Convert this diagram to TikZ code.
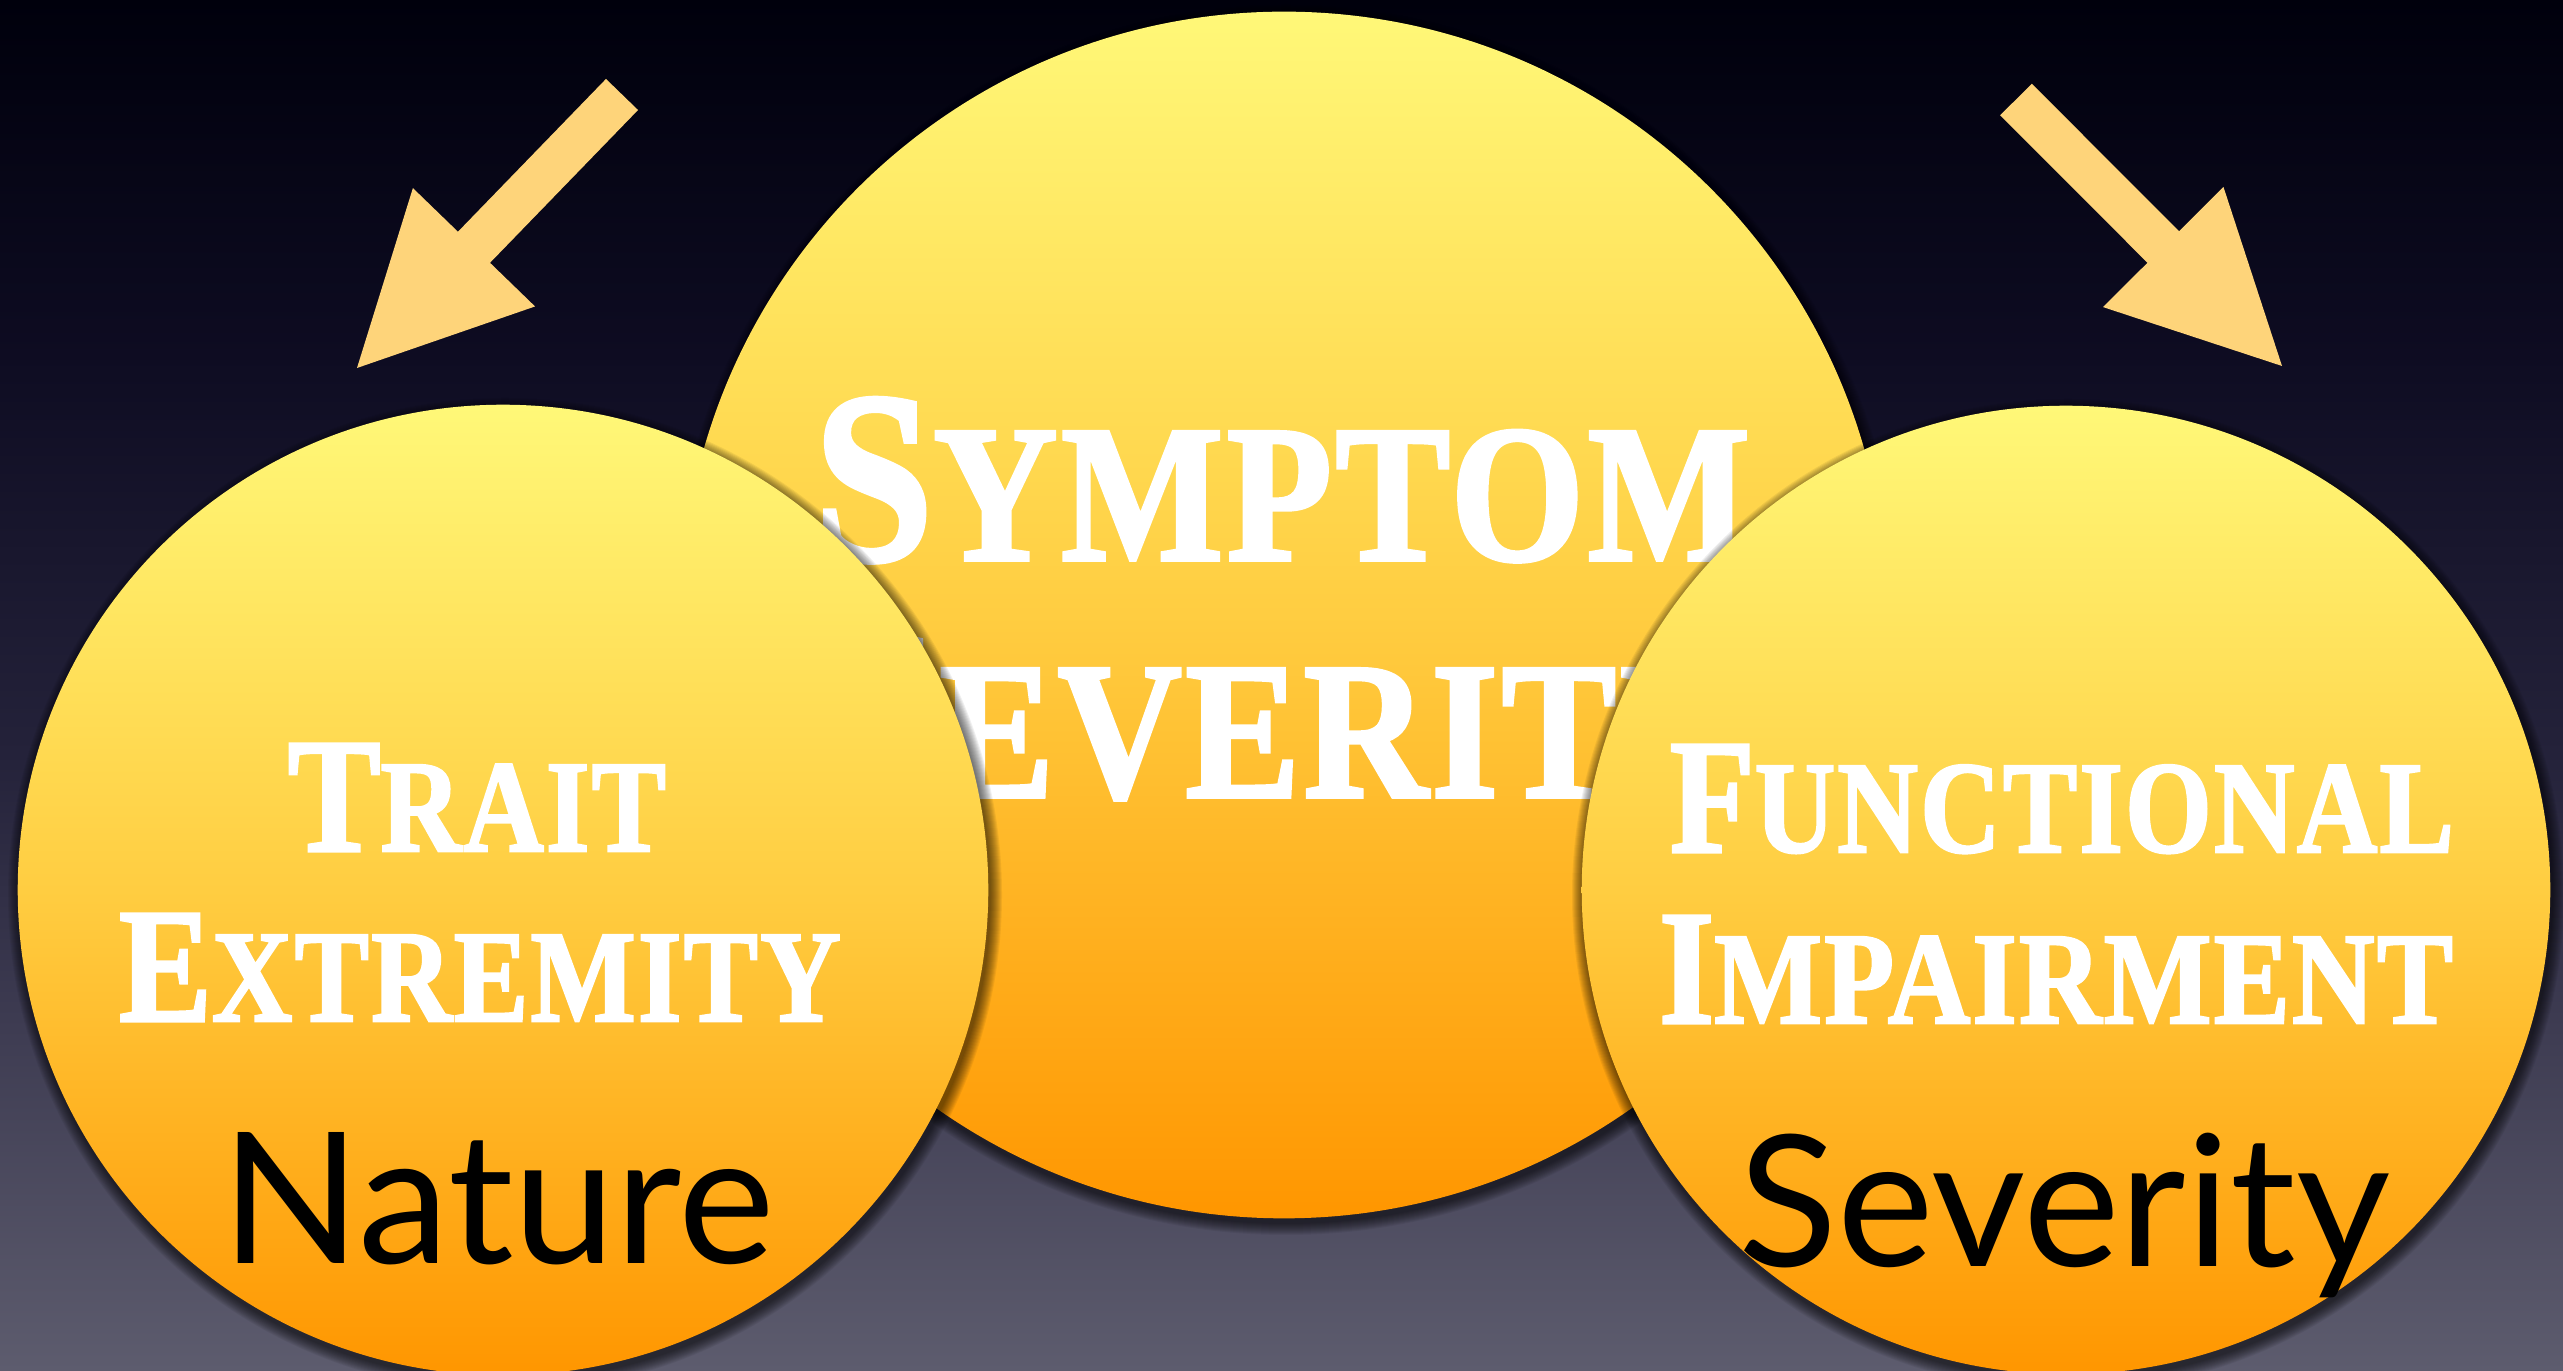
\documentclass[tikz,border=0pt]{standalone}
\usepackage{fontspec}
\setmainfont{Liberation Serif}
\newfontfamily\gillfont{Lato}
\newfontfamily\scfont{Liberation Serif}[BoldFeatures={FakeBold=2}, LetterSpace=2]
\usetikzlibrary{calc}
\definecolor{arrowc}{RGB}{254,212,122}
\definecolor{bgA}{RGB}{0,0,12}
\definecolor{bgB}{RGB}{14,12,34}
\definecolor{bgC}{RGB}{36,34,58}
\definecolor{bgD}{RGB}{62,60,82}
\definecolor{bgE}{RGB}{93,92,110}
\definecolor{ballT}{RGB}{255,248,120}
\definecolor{ballM}{RGB}{255,205,65}
\definecolor{ballB}{RGB}{255,150,0}
\pgfdeclareverticalshading{bgshade}{100bp}{color(0bp)=(bgE); color(25bp)=(bgE); color(37.5bp)=(bgD); color(47.5bp)=(bgC); color(62bp)=(bgB); color(75bp)=(bgA); color(100bp)=(bgA)}
\pgfdeclareverticalshading{ballshade}{100bp}{color(0bp)=(ballB); color(25bp)=(ballB); color(50bp)=(ballM); color(75bp)=(ballT); color(100bp)=(ballT)}
\newcommand\scbig[2]{{\fontsize{69.5}{70}\selectfont #1}{\fontsize{55.6}{56}\selectfont #2}}
\newcommand\scsmall[2]{{\fontsize{46.5}{47}\selectfont #1}{\fontsize{37.3}{38}\selectfont #2}}
\newcommand\blockarrow[2]{%
  \coordinate (#1b) at ($(#2)!1.68cm!(#1)$);
  \fill[arrowc] ($(#1)!0.223cm!90:(#2)$) -- ($(#1b)!0.223cm!90:(#2)$) -- ($(#1b)!0.85cm!90:(#2)$) -- (#2)
    -- ($(#1b)!0.85cm!-90:(#2)$) -- ($(#1b)!0.223cm!-90:(#2)$) -- ($(#1)!0.223cm!-90:(#2)$) -- cycle;}
\newcommand\softshadow[3]{%
  \foreach \k in {1,...,12}{\fill[black, opacity=0.06] (#1+2,#2+5) circle[radius={(#3+\k)*0.01cm}];}}
\tikzset{
  ball/.style={circle, inner sep=0, shading=ballshade},
  sctext/.style={white, anchor=base, inner sep=0, font=\scfont\bfseries},
  sanstext/.style={black, anchor=base, inner sep=0, font=\gillfont\fontsize{52}{52}\selectfont}
}
\begin{document}
\begin{tikzpicture}[x=0.01cm, y=-0.01cm]
\path[use as bounding box] (0,0) rectangle (2563,1371);
\shade[shading=bgshade] (0,0) rectangle (2563,1371);
% arrows
\coordinate (la) at (622,94.5);
\coordinate (lp) at (357,368);
\coordinate (ra) at (2016,99.5);
\coordinate (rp) at (2282,366);
\blockarrow{la}{lp}
\blockarrow{ra}{rp}
% centre circle
\softshadow{1284}{615}{603}
\node[ball, minimum size=12.06cm] (cc) at (1284,615) {};
\node[sctext] (t1) at (1282,560) {\scalebox{0.88}[1]{\scbig{S}{YMPTOM}}};
\node[sctext] (t2) at (1282,797) {\scalebox{0.88}[1]{\scbig{S}{EVERITY}}};
% left circle
\softshadow{503}{890}{485}
\node[ball, minimum size=9.7cm] (lc) at (503,890) {};
\node[sctext] (l1) at (477,851) {\scalebox{0.85}[1]{\scsmall{T}{RAIT}}};
\node[sctext] (l2) at (480,1021) {\scalebox{0.85}[1]{\scsmall{E}{XTREMITY}}};
\node[sanstext] (l3) at (498,1264) {Nature};
% right circle
\softshadow{2066}{890}{484}
\node[ball, minimum size=9.68cm] (rc) at (2066,890) {};
\node[sctext] (r1) at (2062,852) {\scalebox{0.85}[1]{\scsmall{F}{UNCTIONAL}}};
\node[sctext] (r2) at (2056,1023) {\scalebox{0.87}[1]{\scsmall{I}{MPAIRMENT}}};
\node[sanstext] (r3) at (2064,1267) {Severity};
\end{tikzpicture}
\end{document}
